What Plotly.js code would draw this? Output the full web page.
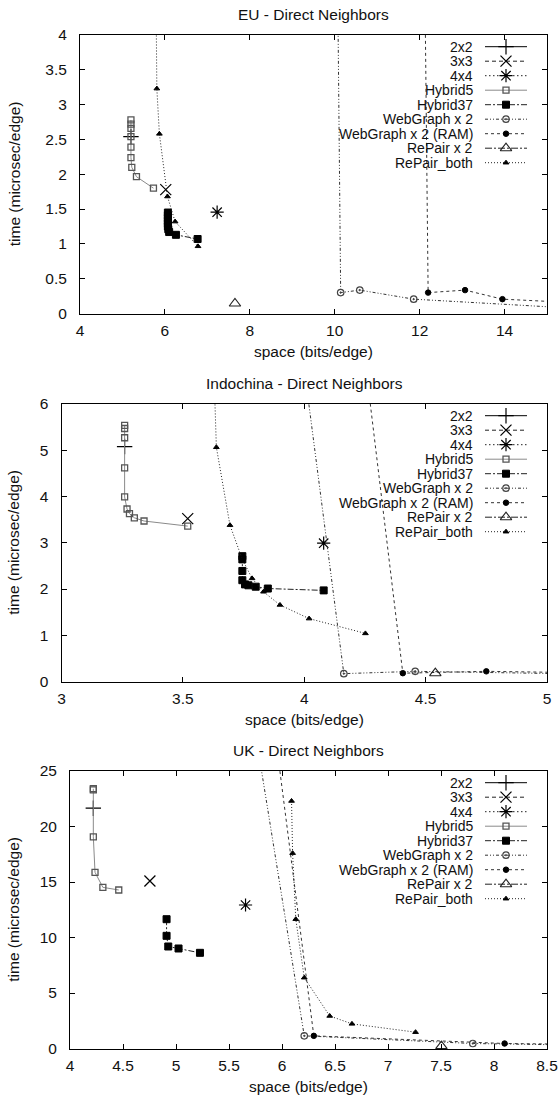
<!DOCTYPE html>
<html>
<head>
<meta charset="utf-8">
<script src="https://cdn.plot.ly/plotly-3.0.1.min.js"></script>
<style>html,body{margin:0;padding:0;background:#fff;}#chart{width:560px;height:1097px;}</style>
</head>
<body>
<div id="chart"></div>
<script>
// ---------------- DATA ----------------
const seriesNames = ['2x2','3x3','4x4','Hybrid5','Hybrid37','WebGraph x 2','WebGraph x 2 (RAM)','RePair x 2','RePair_both'];
const panelTitles = ['EU - Direct Neighbors','Indochina - Direct Neighbors','UK - Direct Neighbors'];
const xTitle = 'space (bits/edge)';
const yTitle = 'time (microsec/edge)';

// EU
const eu_2x2_x = [5.2],  eu_2x2_y = [2.54];
const eu_3x3_x = [6.02], eu_3x3_y = [1.78];
const eu_4x4_x = [7.23], eu_4x4_y = [1.455];
const eu_h5_x  = [5.2,5.2,5.2,5.2,5.2,5.2,5.22,5.33,5.73];
const eu_h5_y  = [2.78,2.72,2.66,2.54,2.39,2.24,2.10,1.965,1.80];
const eu_h37_x = [6.07,6.07,6.07,6.07,6.07,6.07,6.08,6.1,6.26,6.77];
const eu_h37_y = [1.45,1.41,1.37,1.33,1.29,1.25,1.21,1.17,1.13,1.07];
const eu_wg_x  = [10.0,10.14,10.59,11.86,15.5];
const eu_wg_y  = [9,0.30,0.336,0.206,0.08];
const eu_wgr_x = [12.05,12.2,13.07,13.95,18.2];
const eu_wgr_y = [9,0.30,0.336,0.206,0.08];
const eu_rp2_x = [7.65], eu_rp2_y = [0.144];
const eu_rpb_x = [5.74,5.81,5.87,6.06,6.24,6.78];
const eu_rpb_y = [8,3.23,2.58,1.68,1.32,0.965];

// Indochina
const in_2x2_x = [3.26], in_2x2_y = [5.08];
const in_3x3_x = [3.52], in_3x3_y = [3.52];
const in_4x4_x = [4.08], in_4x4_y = [2.99];
const in_h5_x  = [3.26,3.26,3.26,3.26,3.26,3.27,3.28,3.30,3.34,3.52];
const in_h5_y  = [5.54,5.47,5.27,4.62,3.99,3.73,3.63,3.54,3.47,3.36];
const in_h37_x = [3.745,3.745,3.745,3.745,3.756,3.77,3.80,3.85,4.08];
const in_h37_y = [2.71,2.64,2.39,2.19,2.10,2.08,2.05,2.01,1.97];
const in_wg_x  = [3.92,4.163,4.457,5.05];
const in_wg_y  = [10,0.17,0.22,0.17];
const in_wgr_x = [4.18,4.406,4.75,5.4];
const in_wgr_y = [10,0.18,0.22,0.17];
const in_rp2_x = [4.54], in_rp2_y = [0.18];
const in_rpb_x = [3.62,3.638,3.694,3.745,3.785,3.832,3.90,4.02,4.252];
const in_rpb_y = [8,5.065,3.38,2.64,2.23,1.94,1.655,1.36,1.04];

// UK
const uk_2x2_x = [4.22],  uk_2x2_y = [21.65];
const uk_3x3_x = [4.754], uk_3x3_y = [15.09];
const uk_4x4_x = [5.656], uk_4x4_y = [12.93];
const uk_h5_x  = [4.22,4.22,4.22,4.236,4.31,4.46];
const uk_h5_y  = [23.4,23.3,19.07,15.87,14.52,14.28];
const uk_h37_x = [4.911,4.911,4.927,5.024,5.226];
const uk_h37_y = [11.65,10.15,9.19,9.01,8.62];
const uk_wg_x  = [5.554,6.21,7.80,9.2];
const uk_wg_y  = [40,1.14,0.45,0.25];
const uk_wgr_x = [5.779,6.30,8.10,9.6];
const uk_wgr_y = [40,1.14,0.45,0.3];
const uk_rp2_x = [7.504], uk_rp2_y = [0.21];
const uk_rpb_x = [6.09,6.10,6.13,6.21,6.45,6.66,7.26];
const uk_rpb_y = [22.3,17.6,11.65,6.38,2.93,2.22,1.47];

// axis ranges / ticks
const xRanges = [[4,15],[3,5],[4,8.5]];
const xDticks = [2,0.5,0.5];
const yRanges = [[0,4],[0,6],[0,25]];
const yDticks = [0.5,1,5];

const panelData = [
  [[eu_2x2_x,eu_2x2_y],[eu_3x3_x,eu_3x3_y],[eu_4x4_x,eu_4x4_y],[eu_h5_x,eu_h5_y],[eu_h37_x,eu_h37_y],[eu_wg_x,eu_wg_y],[eu_wgr_x,eu_wgr_y],[eu_rp2_x,eu_rp2_y],[eu_rpb_x,eu_rpb_y]],
  [[in_2x2_x,in_2x2_y],[in_3x3_x,in_3x3_y],[in_4x4_x,in_4x4_y],[in_h5_x,in_h5_y],[in_h37_x,in_h37_y],[in_wg_x,in_wg_y],[in_wgr_x,in_wgr_y],[in_rp2_x,in_rp2_y],[in_rpb_x,in_rpb_y]],
  [[uk_2x2_x,uk_2x2_y],[uk_3x3_x,uk_3x3_y],[uk_4x4_x,uk_4x4_y],[uk_h5_x,uk_h5_y],[uk_h37_x,uk_h37_y],[uk_wg_x,uk_wg_y],[uk_wgr_x,uk_wgr_y],[uk_rp2_x,uk_rp2_y],[uk_rpb_x,uk_rpb_y]]
];

// ---------------- STYLE ----------------
const W = 560, H = 1097;
const FONT = 'Liberation Sans, Arial, Helvetica, sans-serif';
const FS = 15.5;
const LFS = 14;
const TXT = '#111';
const panels = [
  {L:80,   R:547, T:35,  B:313.5},
  {L:61.5, R:547, T:404, B:681.5},
  {L:70,   R:547, T:771, B:1048.5}
];
const styles = [
  {dash:'solid',               color:'#000', symbol:'cross-thin-open',  size:11, mcolor:'#000', lw:1.2},
  {dash:'4px,3px',             color:'#222', symbol:'x-thin-open',      size:11, mcolor:'#000', lw:1.2},
  {dash:'1.5px,2.5px',         color:'#222', symbol:'asterisk-open',    size:11, mcolor:'#000', lw:1.2},
  {dash:'solid',               color:'#8a8a8a', symbol:'square-open',   size:6,  mcolor:'#555', lw:1.3},
  {dash:'6px,2px,2px,2px',     color:'#222', symbol:'square',           size:7,  mcolor:'#000', lw:1},
  {dash:'3px,2px,1px,2px,1px,2px', color:'#333', symbol:'circle-open-dot', size:6.5, mcolor:'#444', lw:1.2},
  {dash:'3px,3px',             color:'#333', symbol:'circle',           size:5.5, mcolor:'#000', lw:1},
  {dash:'7px,2px,2px,2px',     color:'#222', symbol:'triangle-up-open', size:10, mcolor:'#222', lw:1.1},
  {dash:'1px,2px',             color:'#222', symbol:'triangle-up',      size:5,  mcolor:'#000', lw:1}
];

const traces = [];
const layout = {
  width: W, height: H,
  margin: {l:0, r:0, t:0, b:0},
  paper_bgcolor: '#fff', plot_bgcolor: 'rgba(0,0,0,0)',
  showlegend: false,
  font: {family: FONT, size: FS, color: TXT},
  annotations: [],
  xaxis4: {domain:[0,1], range:[0,W], visible:false, fixedrange:true, anchor:'y4'},
  yaxis4: {domain:[0,1], range:[H,0], visible:false, fixedrange:true, anchor:'x4'}
};

function axisCommon() {
  return {
    ticks:'inside', ticklen:5, tickwidth:1, tickcolor:'#000',
    showline:true, linecolor:'#000', linewidth:1, mirror:'ticks',
    showgrid:false, zeroline:false, fixedrange:true,
    tickfont:{family:FONT, size:FS, color:TXT}
  };
}

panels.forEach((p, i) => {
  const sfx = i === 0 ? '' : String(i + 1);
  layout['xaxis' + sfx] = Object.assign(axisCommon(), {
    domain:[p.L / W, p.R / W], range:xRanges[i], tick0:xRanges[i][0], dtick:xDticks[i],
    anchor:'y' + sfx, ticklabelstandoff:3
  });
  layout['yaxis' + sfx] = Object.assign(axisCommon(), {
    domain:[1 - p.B / H, 1 - p.T / H], range:yRanges[i], tick0:0, dtick:yDticks[i],
    anchor:'x' + sfx, ticklabelstandoff:9
  });

  panelData[i].forEach((d, s) => {
    const st = styles[s];
    traces.push({
      type:'scatter', mode:'lines+markers', x:d[0], y:d[1],
      xaxis:'x' + sfx, yaxis:'y' + sfx, name:seriesNames[s],
      cliponaxis: d[0].length === 1 ? false : true,
      line:{dash:st.dash, color:st.color, width:1},
      marker:{symbol:st.symbol, size:st.size, color:st.mcolor, line:{color:st.mcolor, width:st.lw}}
    });
  });

  // legend (gnuplot style: right-aligned text, sample to the right)
  seriesNames.forEach((nm, s) => {
    const st = styles[s];
    const yy = p.T + 11.7 + 14.5 * s;
    layout.annotations.push({
      xref:'x4', yref:'y4', x:474, y:yy, text:nm, showarrow:false, borderpad:0,
      xanchor:'right', yanchor:'middle', font:{family:FONT, size:LFS, color:TXT}
    });
    traces.push({
      type:'scatter', mode:'lines', x:[485, 527], y:[yy, yy], xaxis:'x4', yaxis:'y4',
      line:{dash:st.dash, color:st.color, width:1}, hoverinfo:'skip'
    });
    traces.push({
      type:'scatter', mode:'markers', x:[506], y:[yy], xaxis:'x4', yaxis:'y4', cliponaxis:false,
      marker:{symbol:st.symbol, size:st.size, color:st.mcolor, line:{color:st.mcolor, width:st.lw}}, hoverinfo:'skip'
    });
  });

  const cx = (p.L + p.R) / 2;
  layout.annotations.push({xref:'x4', yref:'y4', x:cx, y:p.T - 21, text:panelTitles[i], showarrow:false,
    xanchor:'center', yanchor:'middle', font:{family:FONT, size:FS, color:TXT}});
  layout.annotations.push({xref:'x4', yref:'y4', x:cx, y:p.B + 38, text:xTitle, showarrow:false,
    xanchor:'center', yanchor:'middle', font:{family:FONT, size:FS, color:TXT}});
  layout.annotations.push({xref:'x4', yref:'y4', x:14, y:(p.T + p.B) / 2, text:yTitle, showarrow:false,
    textangle:-90, xanchor:'center', yanchor:'middle', font:{family:FONT, size:FS, color:TXT}});
});

Plotly.newPlot('chart', traces, layout, {staticPlot:true, displayModeBar:false});
</script>
</body>
</html>
